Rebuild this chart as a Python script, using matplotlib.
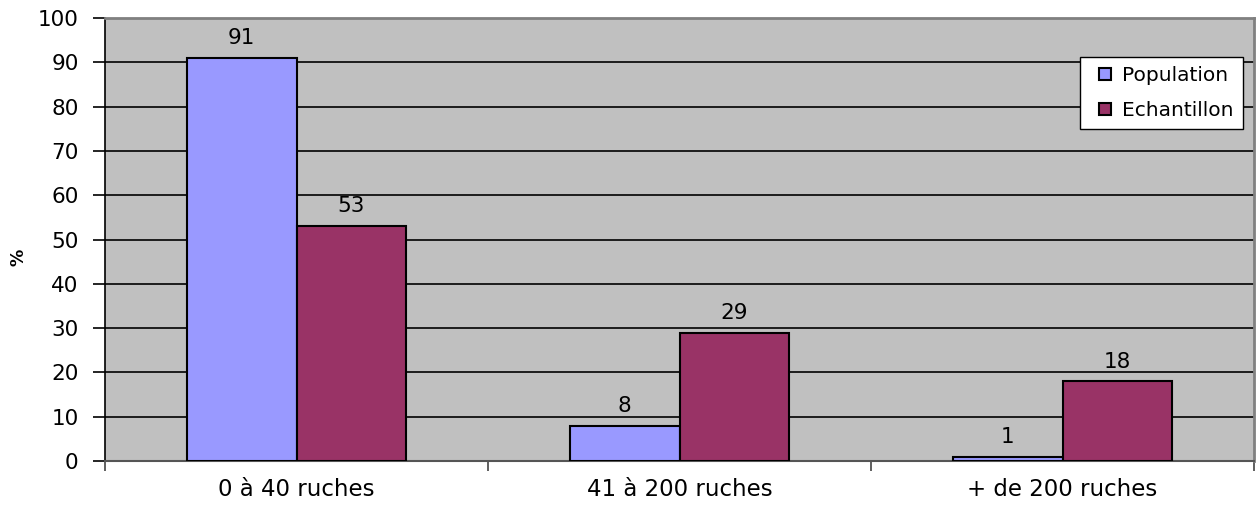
import matplotlib.pyplot as plt
from matplotlib.lines import Line2D
import numpy as np

plt.rcParams['font.family'] = ['DejaVu Sans']

categories = ['0 à 40 ruches', '41 à 200 ruches', '+ de 200 ruches']
population = [91, 8, 1]
echantillon = [53, 29, 18]
series_names = ['Population', 'Echantillon']
colors = ['#9999FF', '#993366']

fig = plt.figure(figsize=(12.58, 5.05), dpi=100)
ax = fig.add_axes([105 / 1258, 1 - 461 / 505, (1254 - 105) / 1258, (461 - 18) / 505])
ax.set_facecolor('#C0C0C0')

x = np.arange(len(categories))
w = 1 / 3.5
b1 = ax.bar(x - w / 2, population, w, color=colors[0], edgecolor='black', linewidth=1.5,
            zorder=3)
b2 = ax.bar(x + w / 2, echantillon, w, color=colors[1], edgecolor='black', linewidth=1.5,
            zorder=3)
for bars in (b1, b2):
    ax.bar_label(bars, padding=7, fontsize=15.5)

ax.set_xlim(-0.5, 2.5)
ax.set_ylim(0, 100)
ax.set_yticks(range(0, 101, 10))
ax.yaxis.grid(True, color='black', linewidth=1.2, zorder=0)
ax.set_axisbelow(True)
ax.tick_params(axis='y', labelsize=15.5, length=9, width=1.2, pad=10)

# category labels centred, ticks on the group boundaries
ax.set_xticks(x)
ax.set_xticklabels(categories, fontsize=16.5)
ax.tick_params(axis='x', length=0, pad=12)
ax.set_xticks(np.arange(-0.5, 2.6, 1), minor=True)
ax.tick_params(axis='x', which='minor', length=7, width=1.2, color='#444444')

fig.text(18 / 1258, 1 - 257 / 505, '%', rotation=90, fontsize=12.5, fontweight='bold',
         ha='center', va='center')

for side in ('top', 'right'):
    ax.spines[side].set_color('#808080')
    ax.spines[side].set_linewidth(2)
ax.spines['bottom'].set_color('#555555')
ax.spines['bottom'].set_linewidth(1.5)
ax.spines['left'].set_linewidth(1.2)

handles = [Line2D([], [], linestyle='none', marker='s', markersize=9, markerfacecolor=c,
                  markeredgecolor='black', markeredgewidth=1.5) for c in colors]
leg = ax.legend(handles, series_names, loc='upper right',
                bbox_to_anchor=(1243 / 1258, 1 - 57 / 505),
                bbox_transform=fig.transFigure, fancybox=False, framealpha=1,
                edgecolor='black', fontsize=14.5, handlelength=1.6,
                handletextpad=0.05, borderpad=0.45, labelspacing=0.8,
                borderaxespad=0)
leg.get_frame().set_linewidth(1)

fig.savefig('out.png', dpi=100)
